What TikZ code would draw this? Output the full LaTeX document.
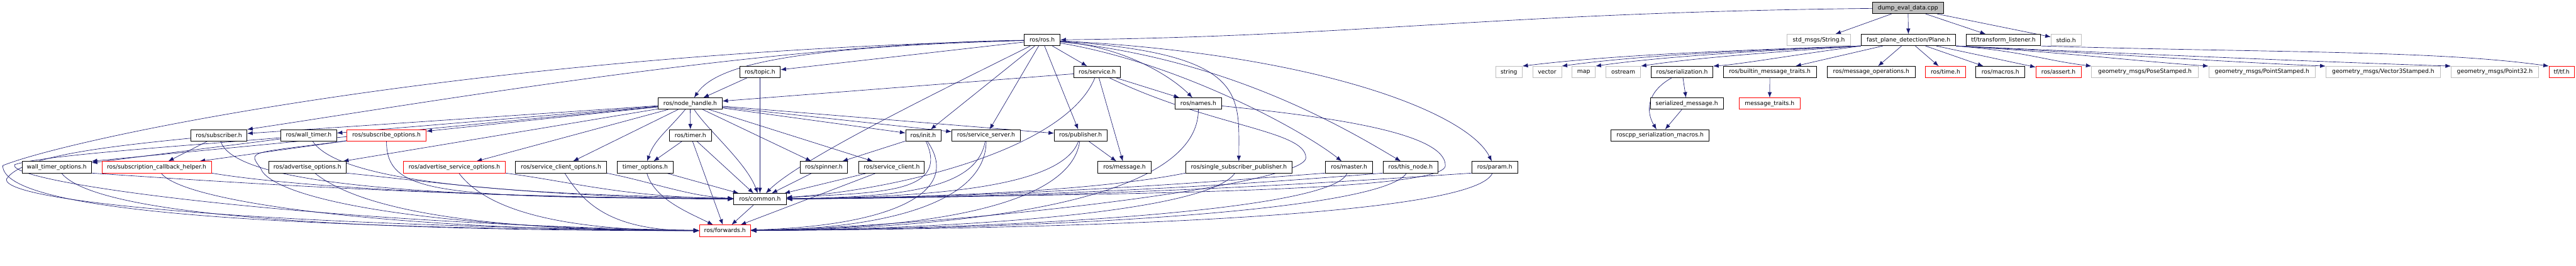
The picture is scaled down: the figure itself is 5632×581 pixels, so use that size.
\documentclass[tikz,border=0pt]{standalone}
\usepackage{fontspec}
\setmainfont{DejaVu Sans}
\usetikzlibrary{arrows.meta,backgrounds}
\definecolor{navy}{HTML}{191970}
\definecolor{hgrau}{HTML}{BFBFBF}
\definecolor{rot}{HTML}{FF0000}
\tikzset{
  kopf/.style={draw=black,fill=white,line width=1pt,minimum height=25,inner sep=0pt,font=\fontsize{12.7}{15}\selectfont},
  kopfg/.style={kopf,draw=hgrau},
  kopfr/.style={kopf,draw=rot},
  quelle/.style={kopf,fill=hgrau},
  inkl/.style={-{Latex[length=12pt,width=9pt]},navy,line width=0.9pt},
}

\begin{document}
\begin{tikzpicture}[x=1pt,y=-1pt]
  \useasboundingbox (0,0) rectangle (5632,581);
  \node[quelle,minimum width=155] (dump) at (4171.5,17.5) {dump\_eval\_data.cpp};
  \node[kopf,minimum width=79] (rosh) at (2278.5,87.5) {ros/ros.h};
  \node[kopfg,minimum width=139] (strmsg) at (3976.5,87.5) {std\_msgs/String.h};
  \node[kopf,minimum width=207] (plane) at (4172.5,87.5) {fast\_plane\_detection/Plane.h};
  \node[kopf,minimum width=162] (tflisten) at (4380,87.5) {tf/transform\_listener.h};
  \node[kopfg,minimum width=66] (stdio) at (4517,87.5) {stdio.h};
  \node[kopf,minimum width=89] (topic) at (1661.5,157.5) {ros/topic.h};
  \node[kopf,minimum width=102] (service) at (2399,157.5) {ros/service.h};
  \node[kopfg,minimum width=58] (string) at (3299,157.5) {string};
  \node[kopfg,minimum width=63] (vector) at (3382.5,157.5) {vector};
  \node[kopfg,minimum width=51] (map) at (3462.5,157.5) {map};
  \node[kopfg,minimum width=76] (ostream) at (3549,157.5) {ostream};
  \node[kopf,minimum width=135] (serial) at (3677.5,157.5) {ros/serialization.h};
  \node[kopf,minimum width=203] (builtin) at (3869.5,157.5) {ros/builtin\_message\_traits.h};
  \node[kopf,minimum width=192] (msgops) at (4091,157.5) {ros/message\_operations.h};
  \node[kopfr,minimum width=87] (time) at (4253.5,157.5) {ros/time.h};
  \node[kopf,minimum width=107] (macros) at (4373.5,157.5) {ros/macros.h};
  \node[kopfr,minimum width=99] (assert) at (4500.5,157.5) {ros/assert.h};
  \node[kopfg,minimum width=233] (posest) at (4689.5,157.5) {geometry\_msgs/PoseStamped.h};
  \node[kopfg,minimum width=233] (pointst) at (4945.5,157.5) {geometry\_msgs/PointStamped.h};
  \node[kopfg,minimum width=251] (vecst) at (5210.5,157.5) {geometry\_msgs/Vector3Stamped.h};
  \node[kopfg,minimum width=191] (pointzw) at (5454.5,157.5) {geometry\_msgs/Point32.h};
  \node[kopfr,minimum width=55] (tftf) at (5600.5,157.5) {tf/tf.h};
  \node[kopf,minimum width=140] (nh) at (1509,226.5) {ros/node\_handle.h};
  \node[kopf,minimum width=102] (names) at (2620,226.5) {ros/names.h};
  \node[kopf,minimum width=160] (sermsg) at (3688,226.5) {serialized\_message.h};
  \node[kopfr,minimum width=134] (msgtraits) at (3869,226.5) {message\_traits.h};
  \node[kopf,minimum width=123] (subscriber) at (478.5,296) {ros/subscriber.h};
  \node[kopf,minimum width=122] (walltimer) at (675,296) {ros/wall\_timer.h};
  \node[kopfr,minimum width=174] (subopts) at (845,296) {ros/subscribe\_options.h};
  \node[kopf,minimum width=91] (timer) at (1509.5,296) {ros/timer.h};
  \node[kopf,minimum width=77] (init) at (2018.5,296) {ros/init.h};
  \node[kopf,minimum width=150] (srvserver) at (2156,296) {ros/service\_server.h};
  \node[kopf,minimum width=115] (publisher) at (2362.5,296) {ros/publisher.h};
  \node[kopf,minimum width=215] (sermacros) at (3629.5,296) {roscpp\_serialization\_macros.h};
  \node[kopf,minimum width=152] (wtopts) at (124,365.5) {wall\_timer\_options.h};
  \node[kopfr,minimum width=239] (subcbh) at (342.5,365.5) {ros/subscription\_callback\_helper.h};
  \node[kopf,minimum width=170] (advopts) at (672,365.5) {ros/advertise\_options.h};
  \node[kopfr,minimum width=223] (advsrvopts) at (993.5,365.5) {ros/advertise\_service\_options.h};
  \node[kopf,minimum width=199] (srvcliopts) at (1226.5,365.5) {ros/service\_client\_options.h};
  \node[kopf,minimum width=123] (timeropts) at (1410.5,365.5) {timer\_options.h};
  \node[kopf,minimum width=104] (spinner) at (1801,365.5) {ros/spinner.h};
  \node[kopf,minimum width=143] (srvclient) at (1949.5,365.5) {ros/service\_client.h};
  \node[kopf,minimum width=117] (message) at (2458.5,365.5) {ros/message.h};
  \node[kopf,minimum width=233] (ssp) at (2708.5,365.5) {ros/single\_subscriber\_publisher.h};
  \node[kopf,minimum width=103] (master) at (2949.5,365.5) {ros/master.h};
  \node[kopf,minimum width=120] (thisnode) at (3084,365.5) {ros/this\_node.h};
  \node[kopf,minimum width=100] (param) at (3268,365.5) {ros/param.h};
  \node[kopf,minimum width=115] (common) at (1661.5,435.5) {ros/common.h};
  \node[kopfr,minimum width=112] (forwards) at (1585,504.5) {ros/forwards.h};

  \begin{scope}[on background layer]
  \draw[inkl] (dump) .. controls +(-900,10) and +(700,-8) .. (rosh);
  \draw[inkl] (dump) -- (strmsg);
  \draw[inkl] (dump) -- (plane);
  \draw[inkl] (dump) -- (tflisten);
  \draw[inkl] (dump) -- (stdio);

  \draw[inkl] (plane.south west) .. controls +(-350,12) and +(180,-22) .. (string.north east);
  \draw[inkl] (plane.south west) .. controls +(-300,12) and +(160,-22) .. (vector.north east);
  \draw[inkl] (plane.south west) .. controls +(-250,12) and +(140,-20) .. (map.north east);
  \draw[inkl] (plane.south west) .. controls +(-200,14) and +(120,-18) .. (ostream.north east);
  \draw[inkl] (plane.south west) .. controls +(-150,20) and +(60,-4) .. (serial.north east);
  \draw[inkl] (plane) -- (builtin);
  \draw[inkl] (plane) -- (msgops);
  \draw[inkl] (plane) -- (time);
  \draw[inkl] (plane) -- (macros);
  \draw[inkl] (plane) -- (assert);
  \draw[inkl] (plane.south east) .. controls +(150,12) and +(-100,-12) .. (posest.north west);
  \draw[inkl] (plane.south east) .. controls +(250,15) and +(-150,-10) .. (pointst.north west);
  \draw[inkl] (plane.south east) .. controls +(350,18) and +(-200,-8) .. (vecst.north west);
  \draw[inkl] (plane.south east) .. controls +(450,20) and +(-250,-8) .. (pointzw.north west);
  \draw[inkl] (tflisten.south east) .. controls +(500,15) and +(-250,-35) .. (tftf.north west);

  \draw[inkl] (builtin) -- (msgtraits);
  \draw[inkl] (serial) -- (sermsg);
  \draw[inkl] (serial) .. controls +(-80,45) and +(-30,-50) .. (sermacros);
  \draw[inkl] (sermsg) -- (sermacros);

  \draw[inkl] (rosh) -- (topic);
  \draw[inkl] (rosh) .. controls +(-520,15) and +(60,-90) .. (nh);
  \draw[inkl] (rosh) .. controls +(-600,8) and +(400,-60) .. (subscriber.north east);
  \draw[inkl] (rosh) .. controls +(-200,100) and +(90,-90) .. (common);
  \draw[inkl] (rosh) -- (init);
  \draw[inkl] (rosh) -- (srvserver);
  \draw[inkl] (rosh) -- (publisher);
  \draw[inkl] (rosh) -- (service);
  \draw[inkl] (rosh) .. controls +(180,15) and +(-60,-60) .. (names);
  \draw[inkl] (rosh) .. controls +(450,30) and +(0,-160) .. (ssp);
  \draw[inkl] (rosh) .. controls +(300,50) and +(-100,-80) .. (master);
  \draw[inkl] (rosh) .. controls +(400,40) and +(-150,-90) .. (thisnode);
  \draw[inkl] (rosh) .. controls +(600,30) and +(-60,-120) .. (param);
  \draw[inkl] (rosh) .. controls +(-1260,30) and +(150,-60) .. (6,362) .. controls +(0,100) and +(-1000,-5) .. (forwards);

  \draw[inkl] (topic) -- (nh);
  \draw[inkl] (topic) -- (common);
  \draw[inkl] (service) -- (nh);
  \draw[inkl] (service) -- (names);
  \draw[inkl] (service) -- (message);
  \draw[inkl] (service) .. controls +(-70,170) and +(300,-20) .. (common);
  \draw[inkl] (service) .. controls +(250,120) and +(0,-60) .. (2855,345) .. controls +(0,60) and +(500,-10) .. (forwards);
  \draw[inkl] (names) .. controls +(0,220) and +(500,-5) .. (forwards);
  \draw[inkl] (names) .. controls +(300,30) and +(0,-70) .. (3160,362) .. controls +(0,60) and +(700,-10) .. (common);

  \draw[inkl] (nh) -- (subscriber);
  \draw[inkl] (nh) -- (walltimer);
  \draw[inkl] (nh) -- (subopts);
  \draw[inkl] (nh) -- (wtopts.north east);
  \draw[inkl] (nh) -- (advopts);
  \draw[inkl] (nh) -- (advsrvopts);
  \draw[inkl] (nh) -- (srvcliopts);
  \draw[inkl] (nh) .. controls +(-50,60) and +(20,-60) .. (timeropts);
  \draw[inkl] (nh) -- (timer);
  \draw[inkl] (nh) .. controls +(40,60) and +(-30,-80) .. (common);
  \draw[inkl] (nh) -- (spinner);
  \draw[inkl] (nh) -- (srvclient);
  \draw[inkl] (nh) -- (init);
  \draw[inkl] (nh) -- (srvserver);
  \draw[inkl] (nh) -- (publisher);

  \draw[inkl] (timer) -- (timeropts);
  \draw[inkl] (timer) -- (common);
  \draw[inkl] (timer) -- (forwards);
  \draw[inkl] (walltimer) -- (wtopts);
  \draw[inkl] (walltimer) .. controls +(80,120) and +(-400,-10) .. (common);
  \draw[inkl] (walltimer) .. controls +(-300,25) and +(60,-20) .. (32,360) .. controls +(-20,40) and +(-900,-15) .. (forwards);
  \draw[inkl] (subscriber) -- (subcbh);
  \draw[inkl] (subscriber) .. controls +(40,130) and +(-500,-5) .. (common);
  \draw[inkl] (subscriber) .. controls +(-250,25) and +(30,-50) .. (14,392) .. controls +(-5,50) and +(-1000,-10) .. (forwards);
  \draw[inkl] (subopts) -- (subcbh);
  \draw[inkl] (subopts) .. controls +(0,130) and +(-700,-5) .. (common);
  \draw[inkl] (subopts) .. controls +(-300,40) and +(-30,-40) .. (570,368) .. controls +(20,60) and +(-700,-5) .. (forwards);

  \draw[inkl] (wtopts.south east) .. controls +(300,20) and +(-700,-5) .. (common);
  \draw[inkl] (wtopts) .. controls +(80,100) and +(-900,0) .. (forwards);
  \draw[inkl] (subcbh.south east) .. controls +(150,25) and +(-700,-5) .. (common);
  \draw[inkl] (subcbh) .. controls +(60,80) and +(-700,0) .. (forwards);
  \draw[inkl] (advopts.south east) .. controls +(200,20) and +(-500,-5) .. (common);
  \draw[inkl] (advopts) .. controls +(100,80) and +(-600,0) .. (forwards);
  \draw[inkl] (advsrvopts.south east) .. controls +(150,20) and +(-300,-5) .. (common);
  \draw[inkl] (advsrvopts) .. controls +(60,80) and +(-400,0) .. (forwards);
  \draw[inkl] (srvcliopts.south east) .. controls +(100,20) and +(-150,-5) .. (common);
  \draw[inkl] (srvcliopts) .. controls +(50,80) and +(-250,0) .. (forwards);
  \draw[inkl] (timeropts) -- (common);
  \draw[inkl] (timeropts) .. controls +(20,70) and +(-80,-40) .. (forwards);

  \draw[inkl] (spinner) -- (common);
  \draw[inkl] (init) -- (spinner);
  \draw[inkl] (init) .. controls +(60,130) and +(250,-15) .. (common);
  \draw[inkl] (init) .. controls +(90,130) and +(350,-10) .. (forwards);
  \draw[inkl] (srvserver) .. controls +(-20,120) and +(300,-5) .. (common);
  \draw[inkl] (srvserver) .. controls +(0,130) and +(400,-5) .. (forwards);
  \draw[inkl] (publisher) -- (message);
  \draw[inkl] (publisher) .. controls +(-40,110) and +(400,-5) .. (common);
  \draw[inkl] (publisher) .. controls +(-20,140) and +(500,-5) .. (forwards);
  \draw[inkl] (srvclient) -- (common);
  \draw[inkl] (srvclient) -- (forwards);
  \draw[inkl] (ssp.south west) .. controls +(-150,30) and +(500,-5) .. (common);
  \draw[inkl] (ssp) .. controls +(-60,90) and +(600,-5) .. (forwards);
  \draw[inkl] (master.south west) .. controls +(-200,15) and +(600,-5) .. (common);
  \draw[inkl] (master) .. controls +(-30,90) and +(700,-5) .. (forwards);
  \draw[inkl] (thisnode.south west) .. controls +(-250,20) and +(700,-5) .. (common);
  \draw[inkl] (thisnode) .. controls +(-60,90) and +(800,-5) .. (forwards);
  \draw[inkl] (param.south west) .. controls +(-300,20) and +(800,-5) .. (common);
  \draw[inkl] (param) .. controls +(-40,100) and +(900,-5) .. (forwards);
  \draw[inkl] (common) -- (forwards);
  \end{scope}
\end{tikzpicture}
\end{document}
